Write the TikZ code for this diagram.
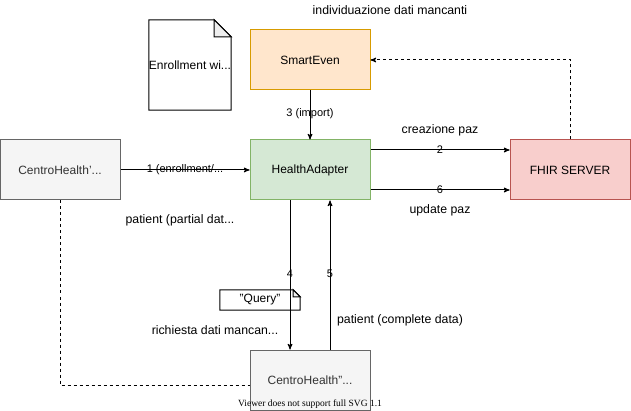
\documentclass[tikz,border=0pt]{standalone}
\usepackage{fontspec}
\setmainfont{Liberation Sans}
\newfontfamily\viewerfont{Liberation Serif}
\usepackage{tikz}
\usetikzlibrary{arrows,calc}
\definecolor{grayFill}{HTML}{F5F5F5}
\definecolor{grayLine}{HTML}{666666}
\definecolor{grayText}{HTML}{333333}
\definecolor{orangeFill}{HTML}{FFE6CC}
\definecolor{orangeLine}{HTML}{D79B00}
\definecolor{greenFill}{HTML}{D5E8D4}
\definecolor{greenLine}{HTML}{82B366}
\definecolor{redFill}{HTML}{F8CECC}
\definecolor{redLine}{HTML}{B85450}
\definecolor{foldFill}{HTML}{EEEEEE}
\begin{document}
\begin{tikzpicture}
[x=1pt,y=-1pt,
box/.style={draw,line width=1pt,minimum width=120pt,minimum height=60pt,inner sep=0pt,font=\fontsize{12}{14}\selectfont},
grayBox/.style={box,fill=grayFill,draw=grayLine,text=grayText},
orangeBox/.style={box,fill=orangeFill,draw=orangeLine},
greenBox/.style={box,fill=greenFill,draw=greenLine},
redBox/.style={box,fill=redFill,draw=redLine},
docNode/.style={minimum width=80pt,minimum height=90pt,inner sep=0pt,font=\fontsize{12}{14}\selectfont},
noteNode/.style={minimum width=80pt,minimum height=20pt,inner sep=0pt,font=\fontsize{12}{14}\selectfont},
fold/.style={line width=1pt,fill=foldFill},
edge/.style={line width=1pt},
end/.style={->,>=stealth'},
dashedEdge/.style={dash pattern=on 3pt off 3pt},
edgeLabel/.style={inner sep=0pt,font=\fontsize{11}{13}\selectfont},
freeLabel/.style={inner sep=0pt,font=\fontsize{12.3}{14}\selectfont},
viewerLabel/.style={inner sep=0pt,font=\viewerfont\fontsize{9.5}{12}\selectfont},
]\useasboundingbox (0 , 0) rectangle (631 , 411) ; 
\node[docNode,] (1) at (190 , 65) {Enrollment wi...}; 
\node[orangeBox,] (2) at (310 , 60) {SmartEven}; 
\node[greenBox,] (3) at (310 , 170) {HealthAdapter}; 
\node[grayBox,] (4) at (60 , 170) {CentroHealth'...}; 
\node[redBox,] (5) at (570 , 170) {FHIR SERVER}; 
\node[grayBox,] (6) at (310 , 380) {CentroHealth"...}; 
\node[noteNode,] (7) at (260 , 300) {"Query"}; 
% document and note outlines
\draw[edge,](1.north west) -- ($(1.north east)+(-17,0)$) -- ($(1.north east)+(0,17)$) -- (1.south east) -- (1.south west) -- cycle ; 
\draw[fold,]($(1.north east)+(-17,0)$) -- ($(1.north east)+(-17,17)$) -- ($(1.north east)+(0,17)$) -- cycle ; 
\draw[edge,](7.north west) -- ($(7.north east)+(-7,0)$) -- ($(7.north east)+(0,7)$) -- (7.south east) -- (7.south west) -- cycle ; 
\draw[fold,]($(7.north east)+(-7,0)$) -- ($(7.north east)+(-7,7)$) -- ($(7.north east)+(0,7)$) -- cycle ; 
% connectors
\draw[edge,end,](2) -- (3) node[edgeLabel,pos=0.48] {3 (import)} ; 
\draw[edge,end,](4) -- (3) node[edgeLabel,midway] {1 (enrollment/...} ; 
\draw[edge,end,]($(3.east)+(0,-20)$) -- ($(5.west)+(0,-20)$) node[edgeLabel,midway] {2} ; 
\draw[edge,end,]($(3.east)+(0,20)$) -- ($(5.west)+(0,20)$) node[edgeLabel,midway] {6} ; 
\draw[edge,end,dashedEdge,](5.north) |- (2.east) ; 
\draw[edge,end,]($(3.south)+(-20,0)$) -- ($(6.north)+(-20,0)$) node[edgeLabel,pos=0.49] {4} ; 
\draw[edge,end,]($(6.north)+(20,0)$) -- ($(3.south)+(20,0)$) node[edgeLabel,pos=0.51] {5} ; 
\draw[edge,dashedEdge,](4.south) |- ($(6.west)+(0,5)$) ; 
% free labels
\node[freeLabel,] (8) at (390 , 10) {individuazione dati mancanti}; 
\node[freeLabel,] (9) at (440 , 130) {creazione paz}; 
\node[freeLabel,] (10) at (440 , 210) {update paz}; 
\node[freeLabel,] (11) at (180 , 220) {patient (partial dat...}; 
\node[freeLabel,] (12) at (215 , 330) {richiesta dati mancan...}; 
\node[freeLabel,] (13) at (400 , 320) {patient (complete data)}; 
\node[viewerLabel,] (14) at (310 , 404) {Viewer does not support full SVG 1.1}; 
\end{tikzpicture}
\end{document}
